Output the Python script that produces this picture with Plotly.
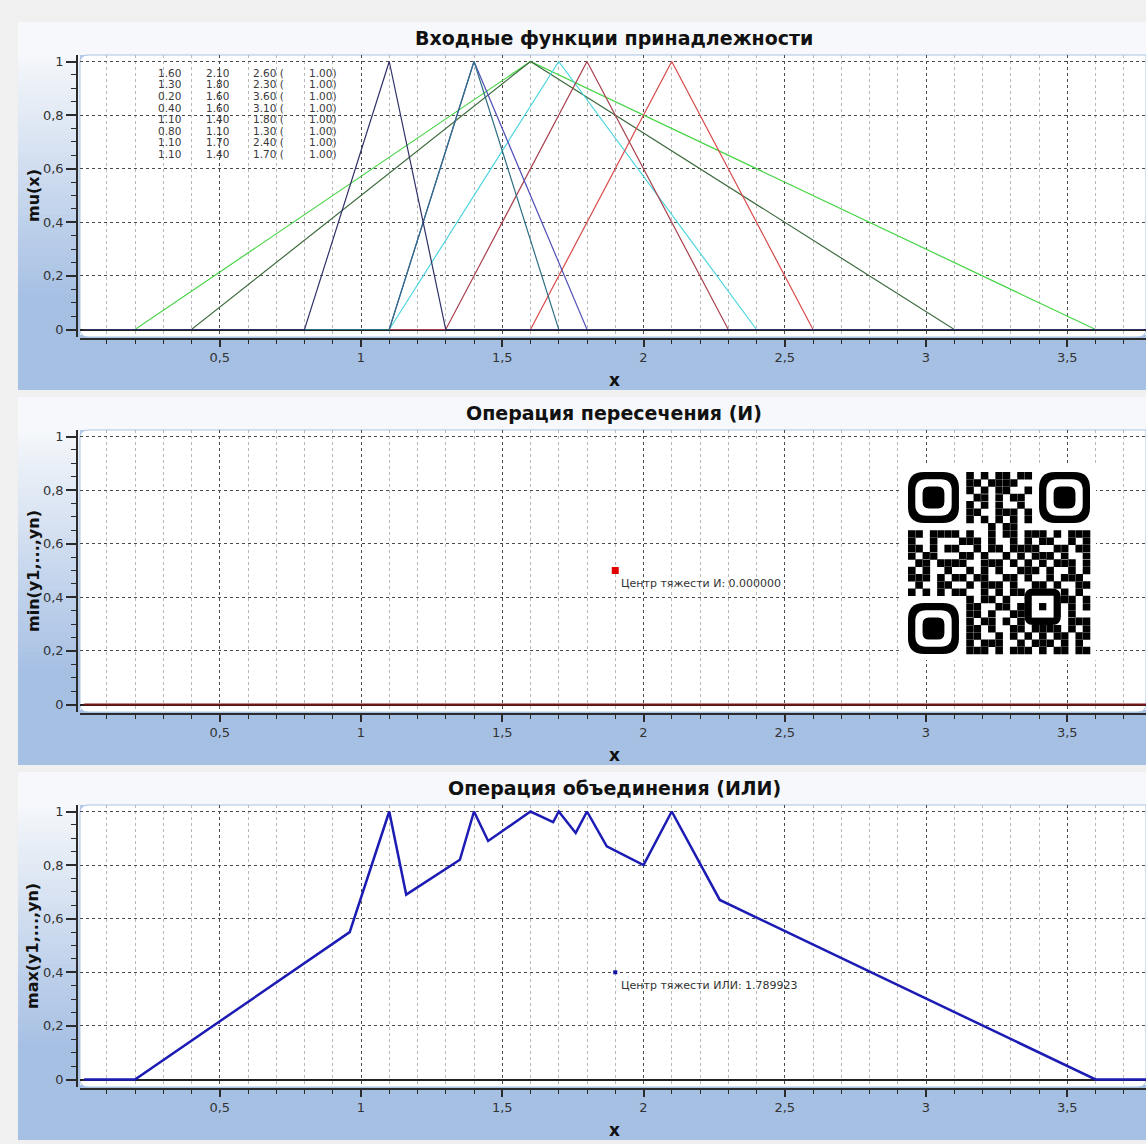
import plotly.graph_objects as go

W, H = 1146, 1144


def px(x):
    return x / W


def py(y):
    return 1 - y / H


# ---------------- data ----------------
tri_a = [1.60, 1.30, 0.20, 0.40, 1.10, 0.80, 1.10, 1.10]
tri_b = [2.10, 1.80, 1.60, 1.60, 1.40, 1.10, 1.70, 1.40]
tri_c = [2.60, 2.30, 3.60, 3.10, 1.80, 1.30, 2.40, 1.70]
tri_h = [1.00, 1.00, 1.00, 1.00, 1.00, 1.00, 1.00, 1.00]
x_lo, x_hi = 0.02, 3.78

and_x = [0.02, 3.78]
and_y = [0.0, 0.0]
and_point_x, and_point_y = [1.9], [0.5]
and_centroid = 0.0

or_x = [0.02, 0.20, 0.96, 1.10, 1.16, 1.35, 1.40, 1.45, 1.60, 1.68, 1.70, 1.76,
        1.80, 1.87, 2.00, 2.10, 2.27, 3.60, 3.78]
or_y = [0.00, 0.00, 0.55, 1.00, 0.69, 0.82, 1.00, 0.89, 1.00, 0.96, 1.00, 0.92,
        1.00, 0.87, 0.80, 1.00, 0.67, 0.00, 0.00]
or_point_x, or_point_y = [1.9], [0.4]
or_centroid = 1.789923

panel_titles = ["Входные функции принадлежности",
                "Операция пересечения (И)",
                "Операция объединения (ИЛИ)"]
y_titles = ["mu(x)", "min(y1,...,yn)", "max(y1,...,yn)"]
x_title = "x"

# ---------------- style ----------------
FONT = "DejaVu Sans"
tri_colors = ['#d94848', '#a8404e', '#44d444', '#3d6b3d',
              '#5050b8', '#303068', '#4cd6de', '#2f6f84']
draw_order = [2, 3, 6, 0, 1, 4, 7, 5]
BLUE = (166, 192, 228)
BAND = (246, 248, 251)
OFF = 375
X0PX, XSCALE = 78.5, 282.5
ZERO_PX, YSCALE = 329.5, 268.0
PA_L, PA_R, PA_T, PA_B = 80, 1146, 55, 337

xr = [(PA_L - X0PX) / XSCALE, (PA_R - X0PX) / XSCALE]
yr = [-(PA_B - ZERO_PX) / YSCALE, (ZERO_PX - PA_T) / YSCALE]

fig = go.Figure()
shapes = []
annotations = []


def rr_path(x0, y0, x1, y1, r, corners=(True, True, True, True)):
    tl, tr, br, bl = corners
    P = lambda x, y: f"{px(x):.6f},{py(y):.6f}"
    s = "M " + (P(x0 + r, y0) if tl else P(x0, y0))
    if tr:
        s += " L " + P(x1 - r, y0) + " Q " + P(x1, y0) + " " + P(x1, y0 + r)
    else:
        s += " L " + P(x1, y0)
    if br:
        s += " L " + P(x1, y1 - r) + " Q " + P(x1, y1) + " " + P(x1 - r, y1)
    else:
        s += " L " + P(x1, y1)
    if bl:
        s += " L " + P(x0 + r, y1) + " Q " + P(x0, y1) + " " + P(x0, y1 - r)
    else:
        s += " L " + P(x0, y1)
    if tl:
        s += " L " + P(x0, y0 + r) + " Q " + P(x0, y0) + " " + P(x0 + r, y0)
    s += " Z"
    return s


def rect(x0, y0, x1, y1, color, layer="below", line=None):
    d = dict(type="rect", xref="paper", yref="paper",
             x0=px(x0), x1=px(x1), y0=py(y1), y1=py(y0),
             fillcolor=color, layer=layer, line=dict(width=0))
    if line:
        d["line"] = line
    return d


def rgb(c):
    return f"rgb({int(c[0])},{int(c[1])},{int(c[2])})"


for i in range(3):
    o = OFF * i
    top, bot = 22 + o, 390 + o
    shapes.append(rect(18, top, W, bot, rgb(BAND)))
    N = 40
    g0, g1 = top + 30, 300 + o
    for j in range(N):
        t = j / (N - 1)
        col = tuple(BAND[k] + (BLUE[k] - BAND[k]) * t for k in range(3))
        ya = g0 + (g1 - g0) * j / N
        yb = g0 + (g1 - g0) * (j + 1) / N + 0.5
        shapes.append(rect(18, ya, PA_L, yb, rgb(col)))
    shapes.append(rect(18, g1, PA_L, bot, rgb(BLUE)))
    shapes.append(rect(18, PA_B + o - 2, W, bot, rgb(BLUE)))
    shapes.append(rect(PA_L, PA_T + o, PA_L + 8, PA_T + o + 8, "#b3cbe9"))
    shapes.append(dict(type="path", xref="paper", yref="paper", layer="below",
                       path=rr_path(PA_L, PA_T + o, PA_R, PA_B + o, 8,
                                    (True, False, True, True)),
                       fillcolor="white", line=dict(color="#a9c3e3", width=1)))

    xkey = "xaxis" if i == 0 else f"xaxis{i + 1}"
    ykey = "yaxis" if i == 0 else f"yaxis{i + 1}"
    fig.layout[xkey] = dict(
        domain=[px(PA_L), 1.0], range=xr, anchor="free", position=py(339 + o),
        showline=True, linecolor="#2b2b2b", linewidth=1.5,
        ticks="outside", ticklen=7, tickwidth=1.5, tickcolor="#2b2b2b",
        tick0=0, dtick=0.5, showgrid=True, gridcolor="#4a4a4a", griddash="dot",
        gridwidth=1, zeroline=False,
        tickfont=dict(family=FONT, size=13, color="#333333"),
        minor=dict(dtick=0.1, ticklen=4, tickwidth=1, tickcolor="#2b2b2b",
                   showgrid=True, gridcolor="#b8b8b8", griddash="dot", gridwidth=1),
        fixedrange=True)
    fig.layout[ykey] = dict(
        domain=[py(PA_B + o), py(PA_T + o)], range=yr, anchor="free", position=px(77),
        showline=True, linecolor="#2b2b2b", linewidth=1.5,
        ticks="outside", ticklen=10, tickwidth=1.5, tickcolor="#2b2b2b",
        tick0=0, dtick=0.2, showgrid=True, gridcolor="#4a4a4a", griddash="dot",
        gridwidth=1, zeroline=True, zerolinecolor="#222222", zerolinewidth=2,
        tickfont=dict(family=FONT, size=13, color="#333333"),
        minor=dict(dtick=0.05, ticklen=5, tickwidth=1, tickcolor="#2b2b2b",
                   showgrid=False),
        fixedrange=True)

    annotations.append(dict(text=f"<b>{panel_titles[i]}</b>", xref="paper", yref="paper",
                            x=px(614), y=py(38 + o), xanchor="center", yanchor="middle",
                            showarrow=False, font=dict(family=FONT, size=19, color="#111111")))
    annotations.append(dict(text=f"<b>{x_title}</b>", xref="paper", yref="paper",
                            x=px(614), y=py(380 + o), xanchor="center", yanchor="middle",
                            showarrow=False, font=dict(family=FONT, size=17, color="#111111")))
    annotations.append(dict(text=f"<b>{y_titles[i]}</b>", xref="paper", yref="paper",
                            x=px(33), y=py((PA_T + PA_B) / 2 + o), xanchor="center",
                            yanchor="middle", textangle=-90, showarrow=False,
                            font=dict(family=FONT, size=16, color="#111111")))

# ---------------- panel 1 traces ----------------
for k in draw_order:
    fig.add_trace(go.Scatter(
        x=[x_lo, tri_a[k], tri_b[k], tri_c[k], x_hi],
        y=[0, 0, tri_h[k], 0, 0], mode="lines",
        line=dict(color=tri_colors[k], width=1.2), xaxis="x", yaxis="y",
        hoverinfo="skip"))

cols_x = [157, 205, 252, 308]
for k in range(len(tri_a)):
    yy = 72.7 + 11.63 * k
    texts = [f"{tri_a[k]:.2f}", f"{tri_b[k]:.2f}", f"{tri_c[k]:.2f} (", f"{tri_h[k]:.2f})"]
    for cx, tx in zip(cols_x, texts):
        annotations.append(dict(text=tx, xref="paper", yref="paper", x=px(cx), y=py(yy),
                                xanchor="left", yanchor="middle", showarrow=False,
                                borderpad=0,
                                font=dict(family=FONT, size=10.5, color="#3a3a3a")))

# ---------------- panel 2 ----------------
fig.add_trace(go.Scatter(x=and_x, y=and_y, mode="lines",
                         line=dict(color="#7a1515", width=2), xaxis="x2", yaxis="y2",
                         hoverinfo="skip"))
fig.add_trace(go.Scatter(x=and_point_x, y=and_point_y, mode="markers",
                         marker=dict(symbol="square", size=7, color="#e00000"),
                         xaxis="x2", yaxis="y2", hoverinfo="skip"))
annotations.append(dict(text=f"Центр тяжести И: {and_centroid:.6f}", xref="x2", yref="y2",
                        x=and_point_x[0], y=and_point_y[0], xanchor="left", yanchor="middle",
                        xshift=4, yshift=-13, showarrow=False,
                        font=dict(family=FONT, size=11, color="#333333")))

# ---------------- panel 3 ----------------
fig.add_trace(go.Scatter(x=or_x, y=or_y, mode="lines",
                         line=dict(color="#1c1cb4", width=2.5), xaxis="x3", yaxis="y3",
                         hoverinfo="skip"))
fig.add_trace(go.Scatter(x=or_point_x, y=or_point_y, mode="markers",
                         marker=dict(symbol="square", size=4, color="#1010a0"),
                         xaxis="x3", yaxis="y3", hoverinfo="skip"))
annotations.append(dict(text=f"Центр тяжести ИЛИ: {or_centroid:.6f}", xref="x3", yref="y3",
                        x=or_point_x[0], y=or_point_y[0], xanchor="left", yanchor="middle",
                        xshift=4, yshift=-13, showarrow=False,
                        font=dict(family=FONT, size=11, color="#333333")))

# ---------------- QR code (decorative image) ----------------
qr_rows = [
    "........#.#.##.##........",
    "........##.####..........",
    "........#.#.##..#........",
    ".........##.#.##.........",
    "........#.#.#..#.........",
    "........##..###.#........",
    "........#.#.#.#.#........",
    "...........#.##..........",
    "##.####.#..#.##.###.#.###",
    "#..#...###.#..#.#.##..#.#",
    "##.#.##..#.##.####..##.##",
    "#.##...##.#..#.#.###.#..#",
    ".##.####..###.#.#.#.###.#",
    "#.#..#..#.#.#..###.#..#.#",
    "###.#.##.##..##.#..#.###.",
    ".#..##..#.###.#..##.#..##",
    "#.#.#.##..#.#.###.#.##.#.",
    "........#.##.#..##.#.##.#",
    "........##..##.#.#..#.#.#",
    "........##.#..###.#.#.#..",
    "........#.##.#.#.#..#.###",
    "........##.#..##.####.#.#",
    "........##..#.#.#.#.##.##",
    "........#.###..#.###.#.#.",
    "........###.#.###.#.##.##",
]
QX, QY, QM = 908, 472, 182 / 25
above = []
above.append(rect(QX - 6, QY - 6, QX + 25 * QM + 6, QY + 25 * QM + 6, "white", layer="above"))


def in_finder(r, c):
    return (r < 8 and c < 8) or (r < 8 and c > 16) or (r > 16 and c < 8)


def in_align(r, c):
    return 16 <= r <= 20 and 16 <= c <= 20


P = lambda x, y: f"{px(x):.6f},{py(y):.6f}"
path = ""
for r, row in enumerate(qr_rows):
    for c, ch in enumerate(row):
        if ch == "#" and not in_finder(r, c) and not in_align(r, c):
            x0, y0 = QX + c * QM, QY + r * QM
            x1, y1 = x0 + QM + 0.3, y0 + QM + 0.3
            path += f"M {P(x0, y0)} L {P(x1, y0)} L {P(x1, y1)} L {P(x0, y1)} Z "
above.append(dict(type="path", xref="paper", yref="paper", layer="above", path=path,
                  fillcolor="black", line=dict(width=0)))
for (fr, fc) in [(0, 0), (0, 18), (18, 0)]:
    x0, y0 = QX + fc * QM, QY + fr * QM
    above.append(dict(type="path", xref="paper", yref="paper", layer="above",
                      path=rr_path(x0, y0, x0 + 7 * QM, y0 + 7 * QM, 2.2 * QM),
                      fillcolor="black", line=dict(width=0)))
    above.append(dict(type="path", xref="paper", yref="paper", layer="above",
                      path=rr_path(x0 + QM, y0 + QM, x0 + 6 * QM, y0 + 6 * QM, 1.5 * QM),
                      fillcolor="white", line=dict(width=0)))
    above.append(dict(type="path", xref="paper", yref="paper", layer="above",
                      path=rr_path(x0 + 2 * QM, y0 + 2 * QM, x0 + 5 * QM, y0 + 5 * QM, 0.9 * QM),
                      fillcolor="black", line=dict(width=0)))
ax0, ay0 = QX + 16 * QM, QY + 16 * QM
above.append(dict(type="path", xref="paper", yref="paper", layer="above",
                  path=rr_path(ax0, ay0, ax0 + 5 * QM, ay0 + 5 * QM, 1.2 * QM),
                  fillcolor="black", line=dict(width=0)))
above.append(rect(ax0 + QM, ay0 + QM, ax0 + 4 * QM, ay0 + 4 * QM, "white", layer="above"))
above.append(rect(ax0 + 2 * QM, ay0 + 2 * QM, ax0 + 3 * QM, ay0 + 3 * QM, "black", layer="above"))

fig.update_layout(
    width=W, height=H, autosize=False,
    margin=dict(l=0, r=0, t=0, b=0),
    paper_bgcolor="#f0f0f0", plot_bgcolor="rgba(0,0,0,0)",
    showlegend=False, separators=", ",
    shapes=shapes + above, annotations=annotations,
    font=dict(family=FONT, color="#333333"),
)

fig.write_html(
    "out.html",
    config={"displayModeBar": False},
    post_script=("document.body.style.margin='0';"
                 "document.body.style.padding='0';"
                 "document.body.style.overflow='hidden';"
                 "document.body.style.background='#f0f0f0';"),
)
